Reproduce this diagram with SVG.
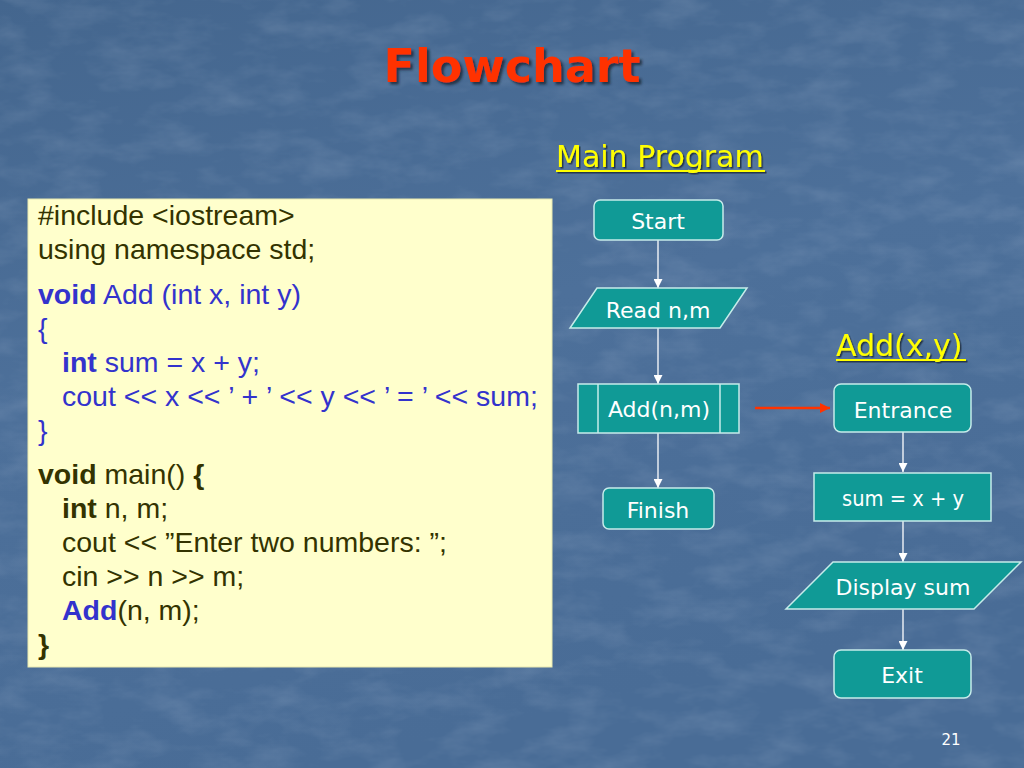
<svg xmlns="http://www.w3.org/2000/svg" width="1024" height="768" viewBox="0 0 1024 768">
<defs>
  <linearGradient id="bg" x1="0" y1="0" x2="0.3" y2="1">
    <stop offset="0" stop-color="#44668e"/>
    <stop offset="0.5" stop-color="#4d709a"/>
    <stop offset="1" stop-color="#496c96"/>
  </linearGradient>
  <filter id="tex" x="0" y="0" width="100%" height="100%">
    <feTurbulence type="fractalNoise" baseFrequency="0.02 0.045" numOctaves="4" seed="7" result="n"/>
    <feColorMatrix in="n" type="matrix" values="0 0 0 0 0.75  0 0 0 0 0.82  0 0 0 0 0.92  0 0 0 1.1 -0.45"/>
  </filter>
  <filter id="shadow" x="-10%" y="-10%" width="130%" height="140%">
    <feDropShadow dx="2.5" dy="2.5" stdDeviation="1" flood-color="#1a2535" flood-opacity="0.8"/>
  </filter>
  <filter id="shadow2" x="-10%" y="-10%" width="130%" height="140%">
    <feDropShadow dx="1.5" dy="1.5" stdDeviation="0.6" flood-color="#1a2535" flood-opacity="0.8"/>
  </filter>
  <marker id="wa" viewBox="0 0 10 10" refX="10" refY="5" markerWidth="9" markerHeight="9" markerUnits="userSpaceOnUse" orient="auto">
    <path d="M0,0 L10,5 L0,10 z" fill="#ffffff"/>
  </marker>
  <marker id="ra" viewBox="0 0 10 10" refX="10" refY="5" markerWidth="10" markerHeight="11" markerUnits="userSpaceOnUse" orient="auto">
    <path d="M0,0 L10,5 L0,10 z" fill="#ff3300"/>
  </marker>
</defs>
<style>
  .node { fill: #109a96; stroke: #c6ecea; stroke-width: 1.5; }
  .nt { font-family: "DejaVu Sans", Verdana, sans-serif; font-size: 22px; fill: #ffffff; text-anchor: middle; }
  .conn { stroke: #ffffff; stroke-width: 1.3; fill: none; marker-end: url(#wa); }
  .code { font-family: "Liberation Sans", Arial, sans-serif; font-size: 28.5px; }
  .dk { fill: #333300; }
  .bl { fill: #3333cc; }
  .b { font-weight: bold; }
  .hdr { font-family: "DejaVu Sans", Verdana, sans-serif; font-size: 30px; fill: #ffff00; }
</style>

<rect x="0" y="0" width="1024" height="768" fill="url(#bg)"/>
<rect x="0" y="0" width="1024" height="768" filter="url(#tex)" opacity="0.22"/>

<g id="title">
  <text x="512" y="82" text-anchor="middle" font-family="'DejaVu Sans', Verdana, sans-serif" font-weight="bold" font-size="46" fill="#ff3300" filter="url(#shadow)">Flowchart</text>
</g>

<g id="main-program-label" filter="url(#shadow2)">
  <text x="556" y="167" class="hdr">Main Program</text>
  <rect x="556" y="170" width="209" height="2" fill="#ffff00"/>
</g>

<g id="add-label" filter="url(#shadow2)">
  <text x="836" y="356" class="hdr">Add(x,y)</text>
  <rect x="836" y="359" width="130" height="2" fill="#ffff00"/>
</g>

<g id="code-box">
  <rect x="28" y="199" width="524" height="468" fill="#ffffcc" stroke="#e8e8b0" stroke-width="1"/>
  <text class="code dk" x="38" y="225">#include &lt;iostream&gt;</text>
  <text class="code dk" x="38" y="259">using namespace std;</text>
  <text class="code bl" x="38" y="304"><tspan class="b">void</tspan> Add (int x, int y)</text>
  <text class="code bl" x="38" y="338">{</text>
  <text class="code bl" x="62" y="372"><tspan class="b">int</tspan> sum = x + y;</text>
  <text class="code bl" x="62" y="406">cout &lt;&lt; x &lt;&lt; ’ + ’ &lt;&lt; y &lt;&lt; ’ = ’ &lt;&lt; sum;</text>
  <text class="code bl" x="38" y="440">}</text>
  <text class="code dk" x="38" y="484"><tspan class="b">void</tspan> main() <tspan class="b">{</tspan></text>
  <text class="code dk" x="62" y="518"><tspan class="b">int</tspan> n, m;</text>
  <text class="code dk" x="62" y="552">cout &lt;&lt; ”Enter two numbers: ”;</text>
  <text class="code dk" x="62" y="586">cin &gt;&gt; n &gt;&gt; m;</text>
  <text class="code dk" x="62" y="620"><tspan class="b bl">Add</tspan>(n, m);</text>
  <text class="code dk b" x="38" y="654">}</text>
</g>

<g id="connectors">
  <line class="conn" x1="658" y1="240" x2="658" y2="288"/>
  <line class="conn" x1="658" y1="328" x2="658" y2="384"/>
  <line class="conn" x1="658" y1="433" x2="658" y2="488"/>
  <line class="conn" x1="903" y1="432" x2="903" y2="472"/>
  <line class="conn" x1="903" y1="521" x2="903" y2="562"/>
  <line class="conn" x1="903" y1="609" x2="903" y2="650"/>
  <line x1="755" y1="408" x2="830" y2="408" stroke="#ff3300" stroke-width="2.5" marker-end="url(#ra)"/>
</g>

<g id="start">
  <rect class="node" x="594" y="200" width="129" height="40" rx="6"/>
  <text class="nt" x="658" y="229">Start</text>
</g>
<g id="read">
  <polygon class="node" points="597,288 747,288 720,328 570,328"/>
  <text class="nt" x="658" y="318">Read n,m</text>
</g>
<g id="add-call">
  <rect class="node" x="578" y="384" width="161" height="49"/>
  <line x1="598" y1="384" x2="598" y2="433" stroke="#c6ecea" stroke-width="1.5"/>
  <line x1="720" y1="384" x2="720" y2="433" stroke="#c6ecea" stroke-width="1.5"/>
  <text class="nt" x="659" y="417">Add(n,m)</text>
</g>
<g id="finish">
  <rect class="node" x="603" y="488" width="111" height="41" rx="6"/>
  <text class="nt" x="658" y="518">Finish</text>
</g>
<g id="entrance">
  <rect class="node" x="834" y="384" width="137" height="48" rx="7"/>
  <text class="nt" x="903" y="418">Entrance</text>
</g>
<g id="sum">
  <rect class="node" x="814" y="473" width="177" height="48"/>
  <text class="nt" x="903" y="506" textLength="122" lengthAdjust="spacingAndGlyphs">sum = x + y</text>
</g>
<g id="display">
  <polygon class="node" points="833,562 1021,562 974,609 786,609"/>
  <text class="nt" x="903" y="595">Display sum</text>
</g>
<g id="exit">
  <rect class="node" x="834" y="650" width="137" height="48" rx="7"/>
  <text class="nt" x="902" y="683">Exit</text>
</g>

<g id="page-number">
  <text x="951" y="745" text-anchor="middle" font-family="'DejaVu Sans', Verdana, sans-serif" font-size="15" fill="#ffffff">21</text>
</g>
</svg>
